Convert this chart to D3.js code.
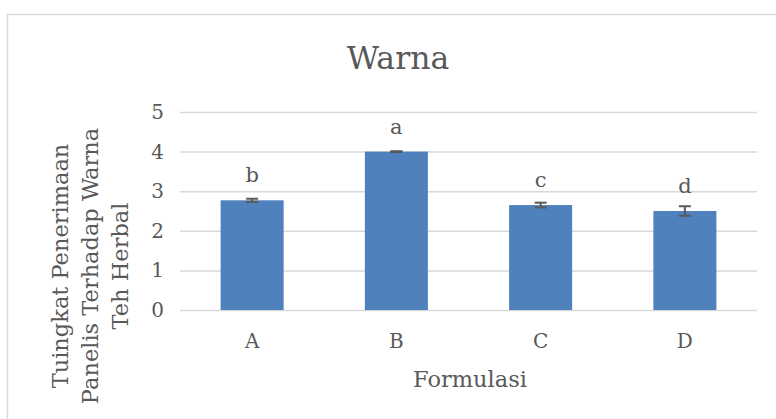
<html>
<head>
<meta charset="utf-8">
<script src="https://cdn.jsdelivr.net/npm/d3@7"></script>
<style>
  body { margin: 0; background: #fff; }
  text { font-family: "DejaVu Serif", serif; fill: #595959; }
</style>
</head>
<body>
<div id="chart"></div>
<script>
  // values
  var categories = ["A", "B", "C", "D"];
  var means = [2.77, 4.00, 2.65, 2.50];
  var errors = [0.04, 0.01, 0.06, 0.12];
  var letters = ["b", "a", "c", "d"];
  var yTicks = [0, 1, 2, 3, 4, 5];

  var W = 776, H = 419;
  var svg = d3.select("#chart").append("svg")
    .attr("width", W).attr("height", H);

  // outer chart frame (runs off right and bottom)
  svg.append("rect")
    .attr("x", 7.5).attr("y", 14.5)
    .attr("width", 820).attr("height", 440)
    .attr("fill", "none").attr("stroke", "#d9d9d9").attr("stroke-width", 1.5);

  var x = d3.scaleBand().domain(categories).range([180, 757])
    .paddingInner(0.563).paddingOuter(0.2815);
  var y = d3.scaleLinear().domain([0, 5]).range([310, 112]);

  // gridlines
  var yAxis = d3.axisLeft(y).tickValues(yTicks).tickFormat(d3.format("d"))
    .tickSize(-(757 - 180)).tickPadding(16);
  var gy = svg.append("g").attr("transform", "translate(180,0)").call(yAxis);
  gy.select(".domain").remove();
  gy.selectAll(".tick line").attr("stroke", "#d9d9d9").attr("stroke-width", 1.5);
  gy.selectAll(".tick text").style("font-size", "20px").attr("fill", "#595959");

  var data = categories.map(function (c, i) {
    return { cat: c, v: means[i], e: errors[i], lab: letters[i] };
  });

  svg.selectAll("rect.bar").data(data).enter().append("rect")
    .attr("class", "bar")
    .attr("x", function (d) { return x(d.cat); })
    .attr("y", function (d) { return y(d.v); })
    .attr("width", x.bandwidth())
    .attr("height", function (d) { return y(0) - y(d.v); })
    .attr("fill", "#4f81bd");

  // error bars
  var eb = svg.selectAll("g.err").data(data).enter().append("g").attr("class", "err")
    .attr("stroke", "#595959").attr("stroke-width", 2);
  eb.append("line")
    .attr("x1", function (d) { return x(d.cat) + x.bandwidth() / 2; })
    .attr("x2", function (d) { return x(d.cat) + x.bandwidth() / 2; })
    .attr("y1", function (d) { return y(d.v - d.e); })
    .attr("y2", function (d) { return y(d.v + d.e); });
  [-1, 1].forEach(function (s) {
    eb.append("line")
      .attr("x1", function (d) { return x(d.cat) + x.bandwidth() / 2 - 6; })
      .attr("x2", function (d) { return x(d.cat) + x.bandwidth() / 2 + 6; })
      .attr("y1", function (d) { return y(d.v + s * d.e); })
      .attr("y2", function (d) { return y(d.v + s * d.e); });
  });

  // significance letters
  svg.selectAll("text.lab").data(data).enter().append("text")
    .attr("class", "lab")
    .attr("x", function (d) { return x(d.cat) + x.bandwidth() / 2; })
    .attr("y", function (d) { return y(d.v) - 18; })
    .attr("text-anchor", "middle")
    .style("font-size", "21px")
    .text(function (d) { return d.lab; });

  // x axis labels
  var xAxis = d3.axisBottom(x).tickSize(0).tickPadding(0);
  var gx = svg.append("g").attr("transform", "translate(0,310)").call(xAxis);
  gx.select(".domain").remove();
  gx.selectAll(".tick text").attr("dy", null).attr("y", 38)
    .style("font-size", "20px").attr("fill", "#595959");

  // titles
  svg.append("text").attr("x", 398).attr("y", 69)
    .attr("text-anchor", "middle").style("font-size", "31.5px").text("Warna");

  svg.append("text").attr("x", 470).attr("y", 387)
    .attr("text-anchor", "middle").style("font-size", "22.5px").text("Formulasi");

  var yTitle = ["Tuingkat Penerimaan", "Panelis Terhadap Warna", "Teh Herbal"];
  svg.append("g").attr("transform", "translate(0,266) rotate(-90)")
    .selectAll("text").data(yTitle).enter().append("text")
    .attr("x", 0)
    .attr("y", function (d, i) { return 68 + i * 30; })
    .attr("text-anchor", "middle")
    .style("font-size", "22.5px")
    .text(function (d) { return d; });
</script>
</body>
</html>
